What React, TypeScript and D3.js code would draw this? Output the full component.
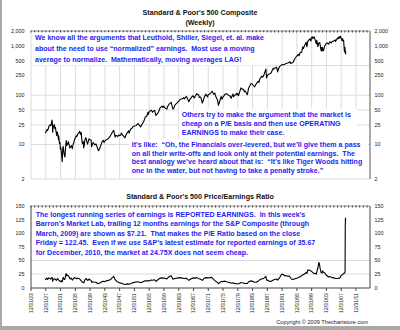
import React from 'react';
import * as d3 from 'd3';

// ---- data ----
const tickYears = [1923, 1927, 1931, 1935, 1939, 1943, 1947, 1951, 1955, 1959, 1963, 1967, 1971, 1975, 1979, 1983, 1987, 1991, 1995, 1999, 2003, 2007, 2011];
const tickLabels = tickYears.map((y) => '12/31/' + String(y % 100).padStart(2, '0'));

const spTickValues = [2000, 1000, 500, 250, 100, 50, 25, 10, 2];
const spTickLabels = ['2,000', '1,000', '500', '250', '100', '50', '25', '10', '2'];
const spGridValues = [2000, 400, 100, 50, 25, 10, 2];

const peTickValues = [150, 125, 100, 75, 50, 25, 0];
const peGridValues = [50, 25];

const spYears = [
  1927.8, 1928.0, 1928.2, 1928.4, 1928.5, 1928.7, 1928.9, 1929.0, 1929.2, 1929.4, 1929.5, 1929.7, 1929.8, 1929.87, 1929.95,
  1930.1, 1930.3, 1930.45, 1930.6, 1930.8, 1930.95, 1931.15, 1931.3, 1931.45, 1931.5, 1931.7, 1931.85, 1931.95,
  1932.1, 1932.3, 1932.45, 1932.6, 1932.7, 1932.9, 1933.1, 1933.2, 1933.35, 1933.55, 1933.65, 1933.8, 1933.95,
  1934.1, 1934.3, 1934.55, 1934.75, 1934.95, 1935.2, 1935.4, 1935.6, 1935.8, 1935.95, 1936.2, 1936.4, 1936.6, 1936.95,
  1937.2, 1937.4, 1937.6, 1937.75, 1937.85, 1937.95, 1938.15, 1938.25, 1938.4, 1938.6, 1938.85, 1939.0, 1939.3, 1939.5,
  1939.7, 1939.95, 1940.3, 1940.4, 1940.6, 1940.85, 1940.95, 1941.3, 1941.6, 1941.95, 1942.3, 1942.6, 1942.95, 1943.3,
  1943.55, 1943.8, 1943.95, 1944.4, 1944.7, 1944.95, 1945.2, 1945.5, 1945.95, 1946.4, 1946.7, 1946.8, 1946.95, 1947.3,
  1947.5, 1947.7, 1947.95, 1948.3, 1948.45, 1948.8, 1948.95, 1949.45, 1949.7, 1949.95, 1950.45, 1950.55, 1950.95, 1951.4,
  1951.6, 1951.95, 1952.4, 1952.95, 1953.1, 1953.7, 1953.95, 1954.5, 1954.95, 1955.3, 1955.7, 1955.8, 1955.95, 1956.3,
  1956.6, 1956.9, 1956.95, 1957.5, 1957.8, 1957.95, 1958.5, 1958.95, 1959.5, 1959.7, 1959.95, 1960.3, 1960.8, 1960.95,
  1961.4, 1961.95, 1962.45, 1962.75, 1962.95, 1963.5, 1963.95, 1964.5, 1964.95, 1965.4, 1965.5, 1965.95, 1966.1, 1966.75,
  1966.95, 1967.5, 1967.8, 1967.95, 1968.2, 1968.9, 1968.95, 1969.4, 1969.55, 1969.95, 1970.4, 1970.6, 1970.95, 1971.3,
  1971.85, 1971.95, 1972.5, 1972.95, 1973.05, 1973.5, 1973.8, 1973.95, 1974.5, 1974.76, 1974.9, 1974.95, 1975.5, 1975.7,
  1975.95, 1976.5, 1976.95, 1977.5, 1977.95, 1978.2, 1978.7, 1978.85, 1978.95, 1979.7, 1979.8, 1979.95, 1980.2, 1980.85,
  1980.95, 1981.6, 1981.75, 1981.95, 1982.6, 1982.9, 1982.95, 1983.5, 1983.8, 1983.95, 1984.45, 1984.55, 1984.9, 1984.95,
  1985.5, 1985.75, 1985.95, 1986.5, 1986.7, 1986.95, 1987.3, 1987.6, 1987.8, 1987.95, 1988.5, 1988.95, 1989.6, 1989.8,
  1989.95, 1990.5, 1990.8, 1990.95, 1991.3, 1991.95, 1992.5, 1992.95, 1993.5, 1993.95, 1994.1, 1994.3, 1994.95, 1995.5,
  1995.95, 1996.4, 1996.55, 1996.95, 1997.3, 1997.55, 1997.8, 1997.95, 1998.5, 1998.7, 1998.95, 1999.5, 1999.8, 1999.95,
  2000.2, 2000.3, 2000.7, 2000.95, 2001.25, 2001.4, 2001.7, 2001.95, 2002.2, 2002.55, 2002.65, 2002.8, 2002.9, 2002.95,
  2003.2, 2003.5, 2003.95, 2004.2, 2004.6, 2004.95, 2005.3, 2005.6, 2005.95, 2006.35, 2006.45, 2006.95, 2007.15, 2007.2,
  2007.45, 2007.6, 2007.78, 2007.95, 2008.2, 2008.4, 2008.55, 2008.65, 2008.8, 2008.88, 2008.95, 2009.0, 2009.15, 2009.18, 2009.22,
];
const spValues = [
  17.0, 17.7, 19.3, 20.0, 19.2, 21.0, 24.0, 24.3, 25.0, 24.2, 27.0, 31.3, 26.0, 17.7, 21.4,
  23.0, 25.5, 21.0, 22.5, 18.0, 15.3, 18.0, 15.0, 12.5, 15.0, 10.5, 11.0, 8.1,
  8.5, 6.0, 4.5, 8.0, 9.2, 7.0, 5.8, 5.6, 8.5, 12.0, 9.5, 10.5, 10.1,
  11.5, 10.0, 8.5, 9.0, 9.5, 8.2, 10.0, 11.0, 12.5, 13.4, 15.0, 14.5, 16.0, 17.2,
  18.5, 16.0, 17.5, 13.0, 11.0, 10.5, 11.5, 8.5, 9.5, 12.5, 13.8, 12.5, 10.2, 11.3,
  13.0, 12.5, 12.2, 9.0, 10.0, 11.0, 10.6, 9.8, 10.3, 8.7, 7.5, 8.3, 9.8, 11.5,
  12.2, 11.0, 11.7, 12.5, 12.8, 13.3, 14.0, 15.0, 17.4, 19.3, 15.0, 14.1, 15.3, 15.0,
  14.5, 15.5, 15.3, 15.5, 17.0, 15.5, 15.2, 13.6, 15.5, 16.8, 19.0, 17.0, 20.4, 21.5,
  23.0, 23.8, 24.0, 26.6, 26.0, 22.7, 24.8, 29.0, 36.0, 37.0, 45.0, 41.0, 45.5, 48.5,
  49.7, 45.0, 46.7, 49.0, 39.0, 40.0, 45.0, 55.2, 60.0, 56.5, 59.9, 55.0, 52.3, 58.1,
  66.0, 71.6, 52.3, 56.0, 63.1, 69.0, 75.0, 83.0, 84.8, 89.0, 84.0, 92.4, 94.0, 73.2,
  80.3, 91.0, 97.0, 96.5, 88.0, 108.4, 103.9, 102.0, 90.0, 92.1, 69.3, 76.0, 92.2, 104.8,
  92.0, 102.1, 107.0, 118.1, 120.2, 104.0, 110.0, 97.5, 80.0, 62.3, 70.0, 68.6, 95.0, 83.0,
  90.2, 104.0, 107.5, 100.0, 95.1, 87.0, 106.0, 93.0, 96.1, 109.0, 100.0, 107.9, 98.2, 140.5,
  135.8, 130.0, 117.0, 122.6, 102.4, 138.0, 140.6, 168.0, 172.0, 164.9, 150.0, 147.0, 166.0, 167.2,
  191.0, 182.0, 211.3, 245.0, 231.0, 242.2, 290.0, 336.8, 224.8, 247.1, 270.0, 277.7, 350.0, 340.0,
  353.4, 368.9, 295.5, 330.2, 380.0, 417.1, 415.0, 435.7, 450.0, 466.5, 480.0, 440.0, 459.3, 560.0,
  615.9, 670.0, 630.0, 740.7, 740.0, 950.0, 880.0, 970.4, 1186, 957, 1229, 1390, 1250, 1469,
  1527, 1400, 1520, 1320, 1100, 1300, 965, 1148, 1170, 800, 920, 776, 930, 880,
  800, 990, 1112, 1150, 1080, 1212, 1150, 1230, 1248, 1320, 1230, 1418, 1460, 1390,
  1530, 1430, 1565, 1468, 1280, 1400, 1240, 1290, 900, 752, 903, 931, 735, 683, 770,
];

const peYears = [
  1927.8, 1928.0, 1928.3, 1928.5, 1928.8, 1929.0, 1929.3, 1929.7, 1929.85, 1930.0, 1930.3, 1930.6, 1930.9, 1931.2, 1931.5,
  1931.8, 1932.0, 1932.2, 1932.45, 1932.7, 1932.9, 1933.1, 1933.3, 1933.5, 1933.7, 1933.9, 1934.1, 1934.4, 1934.6, 1934.9,
  1935.2, 1935.5, 1935.8, 1936.0, 1936.3, 1936.6, 1936.9, 1937.2, 1937.5, 1937.8, 1938.0, 1938.3, 1938.6, 1938.9, 1939.2,
  1939.4, 1939.7, 1939.95, 1940.3, 1940.45, 1940.7, 1940.95, 1941.3, 1941.6, 1941.95, 1942.3, 1942.6, 1942.95, 1943.3, 1943.6,
  1943.95, 1944.3, 1944.6, 1944.95, 1945.3, 1945.6, 1945.95, 1946.2, 1946.4, 1946.6, 1946.8, 1946.95, 1947.3, 1947.6, 1947.95,
  1948.3, 1948.5, 1948.95, 1949.3, 1949.5, 1949.95, 1950.3, 1950.5, 1950.95, 1951.4, 1951.95, 1952.5, 1952.95, 1953.4, 1953.7,
  1953.95, 1954.5, 1954.95, 1955.5, 1955.95, 1956.5, 1956.95, 1957.5, 1957.8, 1957.95, 1958.5, 1958.95, 1959.5, 1959.95, 1960.5,
  1960.8, 1960.95, 1961.5, 1961.95, 1962.45, 1962.95, 1963.5, 1963.95, 1964.5, 1964.95, 1965.5, 1965.95, 1966.1, 1966.75, 1966.95,
  1967.5, 1967.95, 1968.5, 1968.9, 1969.5, 1969.95, 1970.4, 1970.95, 1971.3, 1971.95, 1972.5, 1972.95, 1973.5, 1973.95, 1974.5,
  1974.76, 1974.95, 1975.5, 1975.95, 1976.5, 1976.95, 1977.5, 1977.95, 1978.2, 1978.7, 1978.95, 1979.5, 1979.95, 1980.2, 1980.85,
  1980.95, 1981.5, 1981.95, 1982.6, 1982.95, 1983.5, 1983.95, 1984.5, 1984.95, 1985.5, 1985.95, 1986.5, 1986.95, 1987.6, 1987.8,
  1987.95, 1988.5, 1988.95, 1989.5, 1989.95, 1990.5, 1990.8, 1990.95, 1991.3, 1991.6, 1991.95, 1992.3, 1992.6, 1992.95, 1993.5,
  1993.95, 1994.5, 1994.95, 1995.5, 1995.95, 1996.5, 1996.95, 1997.5, 1997.95, 1998.5, 1998.7, 1998.95, 1999.5, 1999.95, 2000.2,
  2000.6, 2000.95, 2001.25, 2001.5, 2001.75, 2001.95, 2002.1, 2002.3, 2002.55, 2002.8, 2002.95, 2003.2, 2003.5, 2003.95, 2004.3,
  2004.6, 2004.95, 2005.5, 2005.95, 2006.5, 2006.95, 2007.3, 2007.6, 2007.95, 2008.3, 2008.55, 2008.8, 2008.95, 2009.05, 2009.1,
  2009.15, 2009.2,
];
const peValues = [
  14.5, 15.5, 17.5, 15.0, 18.0, 17.5, 16.0, 19.0, 12.0, 14.0, 16.5, 15.5, 13.5, 17.0, 14.0,
  12.0, 11.0, 13.0, 10.5, 19.0, 16.0, 15.0, 19.0, 26.0, 22.0, 23.0, 22.0, 19.0, 16.0, 17.5,
  14.0, 17.0, 18.5, 18.0, 16.5, 17.5, 17.0, 16.0, 13.5, 11.0, 10.0, 9.0, 14.0, 17.0, 15.0,
  13.0, 16.0, 14.5, 13.0, 10.0, 11.0, 10.5, 10.0, 10.0, 8.0, 7.5, 8.5, 9.5, 11.5, 12.0,
  11.0, 12.5, 13.0, 13.5, 14.0, 15.5, 18.0, 19.5, 21.0, 17.5, 14.5, 14.0, 11.0, 10.5, 9.0,
  8.0, 8.5, 6.8, 6.2, 5.8, 6.6, 7.0, 6.2, 7.2, 8.5, 9.8, 10.5, 11.0, 10.0, 9.2,
  9.8, 11.5, 12.9, 12.5, 12.5, 14.0, 13.8, 14.5, 12.0, 12.0, 15.5, 17.5, 18.0, 17.5, 17.0,
  16.0, 17.5, 20.5, 22.0, 15.5, 17.0, 17.5, 18.0, 18.5, 17.5, 17.0, 17.5, 17.0, 13.5, 14.5,
  17.0, 18.0, 17.5, 18.5, 16.5, 15.5, 13.5, 17.5, 18.5, 18.0, 18.5, 19.0, 15.0, 12.0, 9.5,
  7.5, 8.3, 11.5, 11.5, 12.0, 11.0, 10.0, 9.0, 8.3, 9.0, 8.0, 7.5, 7.3, 7.0, 9.5,
  9.0, 8.5, 8.0, 7.8, 11.0, 12.5, 12.0, 10.0, 10.0, 12.0, 14.5, 16.5, 16.5, 21.0, 14.0,
  14.0, 12.0, 11.5, 13.5, 15.0, 16.0, 14.0, 15.5, 18.0, 22.0, 25.0, 24.0, 22.0, 22.5, 21.0,
  21.5, 16.0, 15.0, 16.5, 17.5, 19.0, 20.0, 23.5, 24.5, 28.0, 26.0, 32.5, 32.0, 30.0, 28.5,
  26.0, 26.5, 25.0, 32.0, 38.0, 46.5, 44.0, 35.0, 28.0, 27.0, 31.0, 28.5, 27.5, 23.0, 21.5,
  19.5, 20.5, 18.5, 18.0, 17.0, 17.0, 17.5, 17.5, 22.0, 24.0, 25.0, 27.0, 26.5, 30.0, 110.0,
  128.0, 122.45,
];

const note1 = [
  'We know all the arguments that Leuthold, Shiller, Siegel, et. al. make',
  'about the need to use \u201Cnormalized\u201D earnings.  Most use a moving',
  'average to normalize.  Mathematically, moving averages LAG!',
];
const note2 = [
  'Others try to make the argument that the market is',
  'cheap on a P/E basis and then use OPERATING',
  'EARNINGS to make their case.',
];
const note3 = [
  'It\u2019s like:  \u201COh, the Financials over-levered, but we\u2019ll give them a pass',
  'on all their write-offs and look only at their potential earnings.  The',
  'best analogy we\u2019ve heard about that is:  \u201CIt\u2019s like Tiger Woods hitting',
  'one in the water, but not having to take a penalty stroke.\u201D',
];
const note4 = [
  'The longest running series of earnings is REPORTED EARNINGS.  In this week\u2019s',
  'Barron\u2019s Market Lab, trailing 12 months earnings for the S&P Composite (through',
  'March, 2009) are shown as $7.21.  That makes the P/E Ratio based on the close',
  'Friday = 122.45.  Even if we use S&P\u2019s latest estimate for reported earnings of 35.67',
  'for December, 2010, the market at 24.75X does not seem cheap.',
];

const FONT = '"Liberation Sans", Arial, sans-serif';
const BLUE = '#1d1df2';

export default function App() {
  const W = 400;
  const H = 330;
  const L = 31;
  const R = 370;
  const x = d3.scaleLinear().domain([1924.0, 2015.8]).range([L, R]);
  const yTop = d3.scaleLog().domain([2, 2000]).range([179, 31]);
  const yBot = d3.scaleLinear().domain([0, 150]).range([287.7, 206]);

  const spLine = d3
    .line<number>()
    .x((_, i) => x(spYears[i]))
    .y((d) => yTop(d))(spValues) as string;
  const peLine = d3
    .line<number>()
    .x((_, i) => x(peYears[i]))
    .y((d) => yBot(d))(peValues) as string;

  const tickX = tickYears.map((y) => x(y + 1));
  const minorYears = d3.range(1924, 2016);

  const noteText = (lines: string[], x0: number, y0: number, dy: number, key: string) => (
    <g key={key}>
      {lines.map((s, i) => (
        <text key={i} x={x0} y={y0 + i * dy} dy="0.35em" fontFamily={FONT} fontWeight="bold" fontSize={7.05} fill={BLUE} style={{ whiteSpace: 'pre' }}>
          {s}
        </text>
      ))}
    </g>
  );

  return (
    <svg width={W} height={H} style={{ position: 'absolute', left: 0, top: 0, background: '#fff' }}>
      <rect x={0} y={0} width={W} height={H} fill="#fff" />
      {/* frame */}
      <rect x={0} y={0} width={2} height={H} fill="#a8a8a8" />
      <rect x={0} y={H - 4} width={W} height={4} fill="#a8a8a8" />

      {/* titles */}
      <text x={200} y={12.5} dy="0.35em" textAnchor="middle" fontFamily={FONT} fontWeight="bold" fontSize={7.15} fill="#111">
        Standard &amp; Poor's 500 Composite
      </text>
      <text x={200} y={22.5} dy="0.35em" textAnchor="middle" fontFamily={FONT} fontWeight="bold" fontSize={7.15} fill="#111">
        (Weekly)
      </text>
      <text x={200} y={196.7} dy="0.35em" textAnchor="middle" fontFamily={FONT} fontWeight="bold" fontSize={7.15} fill="#111">
        Standard &amp; Poor's 500 Price/Earnings Ratio
      </text>

      {/* top panel grid */}
      {tickX.map((tx, i) => (
        <line key={'vg' + i} x1={tx} x2={tx} y1={31} y2={179} stroke="#dcdcdc" strokeWidth={1} />
      ))}
      {spGridValues.map((v, i) => (
        <line key={'hg' + i} x1={L} x2={R} y1={yTop(v)} y2={yTop(v)} stroke="#dcdcdc" strokeWidth={1} />
      ))}
      <line x1={R} x2={R} y1={31} y2={179} stroke="#555" strokeWidth={1} />
      <line x1={L} x2={R} y1={31} y2={31} stroke="#aaa" strokeWidth={1} />
      {minorYears.map((yr) => (
        <line key={'mt' + yr} x1={x(yr)} x2={x(yr)} y1={30.5} y2={32.5} stroke="#333" strokeWidth={1} />
      ))}
      {spTickValues.map((v, i) => (
        <g key={'spl' + i}>
          <text x={24.5} y={yTop(v)} dy="0.35em" textAnchor="end" fontFamily={FONT} fontSize={5.4} fill="#222">{spTickLabels[i]}</text>
          <text x={374.5} y={yTop(v)} dy="0.35em" textAnchor="start" fontFamily={FONT} fontSize={5.4} fill="#222">{spTickLabels[i]}</text>
        </g>
      ))}

      <path d={spLine} fill="none" stroke="#000" strokeWidth={1.1} strokeLinejoin="round" />

      {/* notes top panel */}
      <rect x={33} y={32.5} width={236} height={33} fill="#fff" />
      <rect x={179} y={109} width={178} height={30} fill="#fff" />
      <rect x={129} y={139} width={239} height={39} fill="#fff" />
      {noteText(note1, 35, 37.5, 11, 'n1')}
      {noteText(note2, 181.7, 115, 9, 'n2')}
      {noteText(note3, 131.7, 144.3, 8.8, 'n3')}

      {/* bottom panel */}
      {peGridValues.map((v, i) => (
        <line key={'pg' + i} x1={L} x2={R} y1={yBot(v)} y2={yBot(v)} stroke="#dcdcdc" strokeWidth={1} />
      ))}
      <line x1={L} x2={R} y1={206} y2={206} stroke="#aaa" strokeWidth={1} />
      {minorYears.map((yr) => (
        <line key={'mb' + yr} x1={x(yr)} x2={x(yr)} y1={205.5} y2={207.5} stroke="#333" strokeWidth={1} />
      ))}
      <line x1={L} x2={L} y1={206} y2={288} stroke="#444" strokeWidth={1} />
      <line x1={R} x2={R} y1={206} y2={288} stroke="#444" strokeWidth={1} />
      <line x1={L} x2={R} y1={288} y2={288} stroke="#444" strokeWidth={1} />
      {tickX.map((tx, i) => (
        <line key={'bt' + i} x1={tx} x2={tx} y1={288} y2={291} stroke="#444" strokeWidth={1} />
      ))}
      {peTickValues.map((v, i) => (
        <g key={'pel' + i}>
          <text x={24.5} y={yBot(v)} dy="0.35em" textAnchor="end" fontFamily={FONT} fontSize={5.4} fill="#222">{v}</text>
          <text x={374.5} y={yBot(v)} dy="0.35em" textAnchor="start" fontFamily={FONT} fontSize={5.4} fill="#222">{v}</text>
        </g>
      ))}
      <rect x={33} y={208.5} width={312} height={48} fill="#fff" />
      {noteText(note4, 35.7, 214.3, 9.5, 'n4')}

      <path d={peLine} fill="none" stroke="#000" strokeWidth={1.1} strokeLinejoin="round" />

      {tickX.map((tx, i) => (
        <text key={'xl' + i} transform={`translate(${tx},293) rotate(-90)`} dy="0.35em" textAnchor="end" fontFamily={FONT} fontSize={5.2} fill="#222">
          {tickLabels[i]}
        </text>
      ))}

      <text x={368} y={322} dy="0.35em" textAnchor="end" fontFamily={FONT} fontSize={5.6} fill="#222">
        Copyright © 2009 Thechartstore.com
      </text>
    </svg>
  );
}
